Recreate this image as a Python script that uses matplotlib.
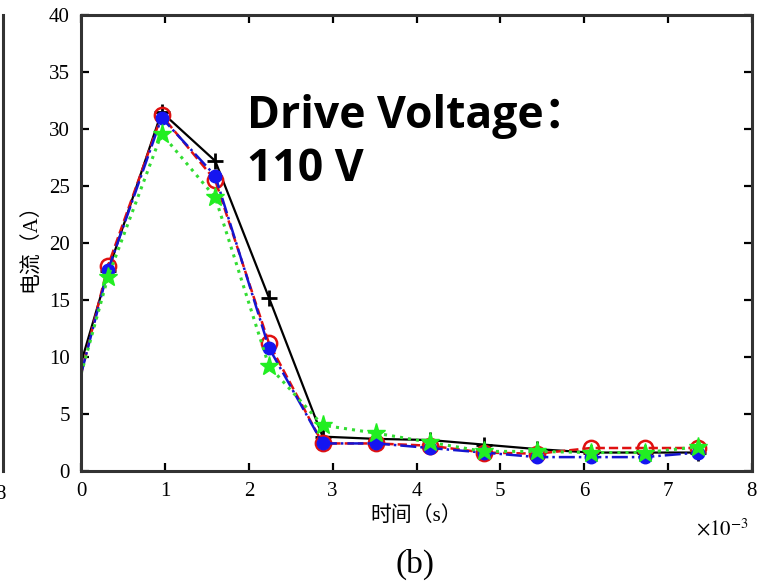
import numpy as np
import matplotlib
matplotlib.use('Agg')
import matplotlib.pyplot as plt

plt.rcParams.update({'font.family': ['Liberation Serif', 'Noto Sans CJK SC'],
                     'mathtext.fontset': 'stix',
                     'xtick.direction': 'in', 'ytick.direction': 'in'})

# time in units of 1e-3 s
t = [0, 0.32, 0.96, 1.6, 2.24, 2.88, 3.52, 4.16, 4.8, 5.44, 6.08, 6.72, 7.36]
i_black = [9.5, 17.5, 31.5, 27.2, 15.2, 3.0, 2.8, 2.7, 2.3, 1.9, 1.6, 1.6, 1.6]
i_red   = [8.5, 18.0, 31.2, 25.5, 11.2, 2.4, 2.4, 2.2, 1.6, 1.5, 2.0, 2.0, 2.0]
i_blue  = [8.5, 17.6, 31.0, 25.9, 10.8, 2.4, 2.4, 2.0, 1.6, 1.2, 1.2, 1.2, 1.6]
i_green = [8.5, 17.0, 29.6, 24.0, 9.2, 4.0, 3.3, 2.5, 1.7, 1.7, 1.6, 1.6, 2.1]

fig = plt.figure(figsize=(7.58, 5.87), dpi=100)
ax = fig.add_axes([0.107, 0.198, 0.885, 0.776])

mk = slice(1, None)
ax.plot(t, i_black, '-', color='black', lw=1.6, marker='+', ms=11, mew=2, markevery=mk)
ax.plot(t, i_red, '--', color='#e01010', lw=1.8, marker='o', ms=11, mfc='none', mew=1.8,
        markevery=mk)
ax.plot(t, i_blue, '-.', color='#1515d0', lw=1.8, marker='o', ms=9, mfc='#1515f0',
        mec='#1515f0', markevery=mk)
ax.plot(t, i_green, ':', color='#33dd33', lw=2.2, marker='*', ms=14, mfc='#22ee22',
        mec='#22ee22', markevery=mk)

ax.set_xlim(0, 8)
ax.set_ylim(0, 40)
ax.set_xticks(range(0, 9))
ax.set_yticks(range(0, 41, 5))
ax.tick_params(top=True, right=True, length=6, width=1.6, labelsize=15, pad=8)
for s in ax.spines.values():
    s.set_linewidth(2.2)
    s.set_color('#333333')

ax.set_xlabel('时间（s）', fontsize=15, labelpad=4)
ax.set_ylabel('电流（A）', fontsize=15, labelpad=6)
ax.text(0.995, -0.105, r'$\times 10^{-3}$', transform=ax.transAxes,
        ha='right', va='top', fontsize=15)

ax.text(1.98, 33.1, 'Drive Voltage：\n110 V', fontsize=32, fontweight='bold',
        family=['Open Sans', 'Noto Sans CJK SC'], va='top', ha='left', linespacing=1.25)

fig.text(0.548, 0.038, '(b)', fontsize=24, ha='center', va='center')

# edge of the neighbouring panel
fig.add_artist(plt.Line2D([0.004, 0.004], [0.198, 0.974], color='#333333', lw=2.2))
fig.text(-0.006, 0.158, '8', fontsize=15, ha='left', va='center')

fig.savefig('out.png', dpi=100)
